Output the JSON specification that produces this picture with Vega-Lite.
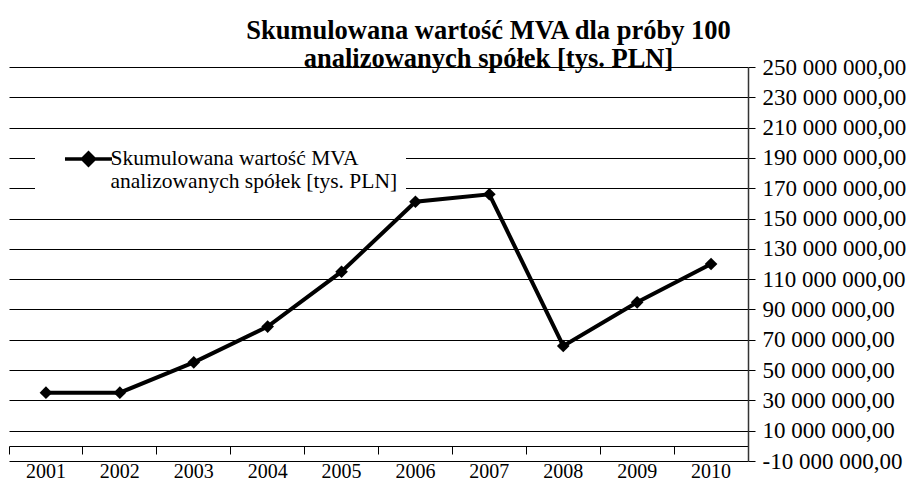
{
  "$schema": "https://vega.github.io/schema/vega-lite/v6.json",
  "autosize": "none",
  "padding": {"left": 9, "top": 67, "right": 172, "bottom": 20},
  "width": 739,
  "height": 394,
  "background": "white",
  "title": {
    "text": ["Skumulowana wartość MVA dla próby 100", "analizowanych spółek [tys. PLN]"],
    "font": "Liberation Serif",
    "fontSize": 26.5,
    "fontWeight": "bold",
    "lineHeight": 28,
    "color": "black",
    "anchor": "middle",
    "frame": "group",
    "baseline": "bottom",
    "dx": 110,
    "offset": -43
  },
  "data": {
    "values": [
      {"year": "2001", "value": 35100000, "series": "Skumulowana wartość MVA analizowanych spółek [tys. PLN]"},
      {"year": "2002", "value": 35100000, "series": "Skumulowana wartość MVA analizowanych spółek [tys. PLN]"},
      {"year": "2003", "value": 55100000, "series": "Skumulowana wartość MVA analizowanych spółek [tys. PLN]"},
      {"year": "2004", "value": 78700000, "series": "Skumulowana wartość MVA analizowanych spółek [tys. PLN]"},
      {"year": "2005", "value": 114900000, "series": "Skumulowana wartość MVA analizowanych spółek [tys. PLN]"},
      {"year": "2006", "value": 161100000, "series": "Skumulowana wartość MVA analizowanych spółek [tys. PLN]"},
      {"year": "2007", "value": 166000000, "series": "Skumulowana wartość MVA analizowanych spółek [tys. PLN]"},
      {"year": "2008", "value": 65900000, "series": "Skumulowana wartość MVA analizowanych spółek [tys. PLN]"},
      {"year": "2009", "value": 94700000, "series": "Skumulowana wartość MVA analizowanych spółek [tys. PLN]"},
      {"year": "2010", "value": 120000000, "series": "Skumulowana wartość MVA analizowanych spółek [tys. PLN]"}
    ]
  },
  "layer": [
    {
      "mark": {"type": "line", "strokeWidth": 4, "strokeJoin": "miter"},
      "encoding": {
        "x": {
          "field": "year",
          "type": "ordinal",
          "scale": {"type": "band", "paddingInner": 0, "paddingOuter": 0},
          "axis": {
            "orient": "bottom",
            "title": null,
            "domain": false,
            "ticks": false,
            "grid": false,
            "labelAngle": 0,
            "labelPadding": 0,
            "labelFont": "Liberation Serif",
            "labelFontSize": 20,
            "labelColor": "black"
          }
        },
        "y": {
          "field": "value",
          "type": "quantitative",
          "scale": {"domain": [-10000000, 250000000], "nice": false, "zero": false},
          "axis": {
            "orient": "right",
            "title": null,
            "values": [-10000000, 10000000, 30000000, 50000000, 70000000, 90000000, 110000000, 130000000, 150000000, 170000000, 190000000, 210000000, 230000000, 250000000],
            "tickCount": 30,
            "format": ",.2f",
            "grid": true,
            "gridColor": "black",
            "gridOpacity": 1,
            "gridWidth": 1,
            "domain": true,
            "domainColor": "#333333",
            "domainWidth": 1.5,
            "ticks": true,
            "tickSize": 7,
            "tickColor": "black",
            "labelPadding": 7,
            "labelFont": "Liberation Serif",
            "labelFontSize": 23,
            "labelColor": "black",
            "labelOverlap": false,
            "labelBound": false,
            "labelFlush": false
          }
        },
        "color": {
          "field": "series",
          "type": "nominal",
          "scale": {"range": ["black"]},
          "legend": {
            "orient": "none",
            "legendX": 26,
            "legendY": 70,
            "title": null,
            "fillColor": "white",
            "padding": 8,
            "symbolType": "M-1.96,0L1.96,0M0,-0.5L0.5,0L0,0.5L-0.5,0Z",
            "symbolSize": 576,
            "symbolOffset": 31.5,
            "symbolStrokeWidth": 3.5,
            "symbolStrokeColor": "black",
            "symbolFillColor": "black",
            "labelFont": "Liberation Serif",
            "labelFontSize": 21.5,
            "labelColor": "black",
            "labelLimit": 0,
            "labelOffset": 8,
            "labelBaseline": "middle",
            "labelExpr": "['Skumulowana wartość MVA', 'analizowanych spółek [tys. PLN]']",
            "encode": {"labels": {"update": {"lineHeight": {"value": 23}}}}
          }
        }
      }
    },
    {
      "mark": {"type": "point", "shape": "diamond", "size": 160, "filled": true, "color": "black", "opacity": 1},
      "encoding": {
        "x": {
          "field": "year",
          "type": "ordinal",
          "axis": {
            "orient": "bottom",
            "title": null,
            "labels": false,
            "grid": false,
            "domain": true,
            "domainColor": "black",
            "domainWidth": 1.2,
            "ticks": true,
            "bandPosition": 0,
            "tickSize": 8,
            "tickColor": "black",
            "tickWidth": 1,
            "offset": -15
          }
        },
        "y": {"field": "value", "type": "quantitative"}
      }
    }
  ],
  "resolve": {"axis": {"x": "independent"}},
  "config": {
    "view": {"stroke": null},
    "locale": {
      "number": {"decimal": ",", "thousands": " ", "grouping": [3], "currency": ["", " zł"], "minus": "-"}
    }
  }
}
